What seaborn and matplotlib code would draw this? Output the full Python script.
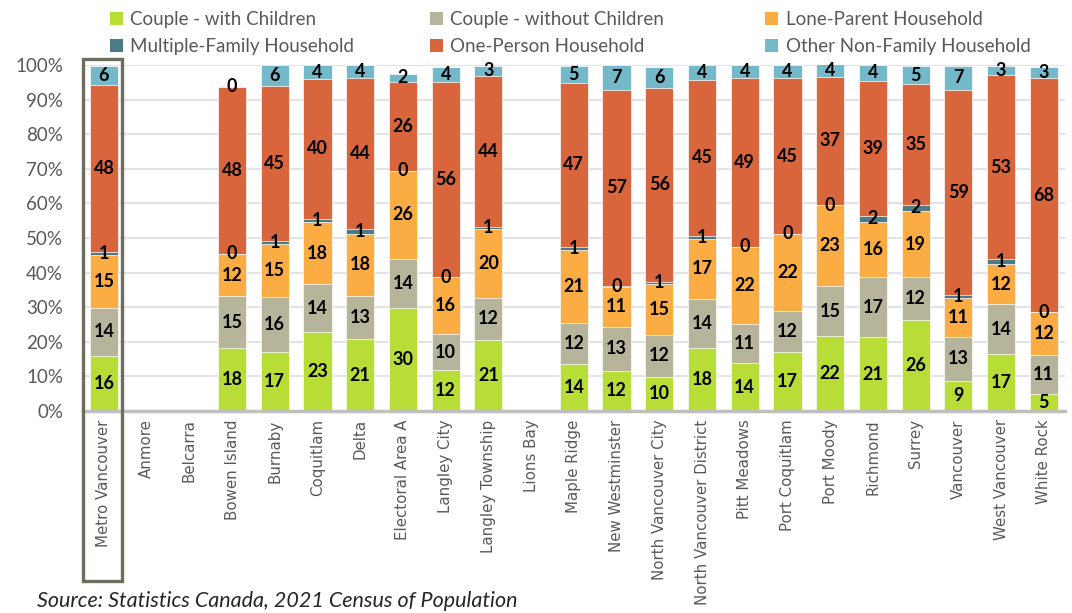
import numpy as np
import pandas as pd
import matplotlib.pyplot as plt
from matplotlib.patches import Patch, Rectangle
import seaborn as sns

# 数据 - household type share (%) by municipality, 2021
cities = ['Metro Vancouver', 'Anmore', 'Belcarra', 'Bowen Island', 'Burnaby', 'Coquitlam',
          'Delta', 'Electoral Area A', 'Langley City', 'Langley Township', 'Lions Bay',
          'Maple Ridge', 'New Westminster', 'North Vancouver City', 'North Vancouver District',
          'Pitt Meadows', 'Port Coquitlam', 'Port Moody', 'Richmond', 'Surrey', 'Vancouver',
          'West Vancouver', 'White Rock']
nan = np.nan
with_children = [16.0, nan, nan, 18.1, 17.0, 22.9, 20.7, 29.7, 11.8, 20.6, nan, 13.6, 11.6,
                 9.9, 18.1, 13.8, 17.1, 21.6, 21.3, 26.3, 8.8, 16.6, 4.8]
without_children = [13.7, nan, nan, 15.0, 15.9, 13.7, 12.6, 14.1, 10.4, 12.1, nan, 11.7, 12.8,
                    12.2, 14.4, 11.4, 11.8, 14.6, 17.3, 12.3, 12.7, 14.2, 11.4]
lone_parent = [15.4, nan, nan, 12.3, 15.3, 18.1, 17.8, 25.7, 16.4, 19.9, nan, 21.3, 11.4,
               14.6, 17.2, 22.3, 22.3, 23.2, 16.1, 19.3, 11.3, 11.8, 12.3]
multiple_family = [0.8, nan, nan, 0.0, 1.0, 0.9, 1.4, 0.0, 0.0, 0.6, nan, 0.8, 0.4,
                   0.6, 0.9, 0.0, 0.0, 0.2, 1.6, 1.6, 0.7, 1.2, 0.0]
one_person = [48.3, nan, nan, 48.3, 44.7, 40.3, 43.6, 25.6, 56.4, 43.6, nan, 47.4, 56.6,
              56.1, 45.1, 48.8, 44.9, 37.0, 39.2, 34.9, 59.2, 53.3, 67.6]
other_nonfamily = [5.6, nan, nan, 0.0, 6.1, 4.1, 3.9, 2.4, 4.3, 3.0, nan, 4.8, 7.1,
                   5.9, 4.3, 3.7, 3.8, 3.7, 4.4, 5.3, 7.1, 2.6, 3.4]

series = ['Couple - with Children', 'Couple - without Children', 'Lone-Parent Household',
          'Multiple-Family Household', 'One-Person Household', 'Other Non-Family Household']
colors = ['#B8DD36', '#B6B59B', '#FBAC42', '#4B7B86', '#D8653C', '#74B9CA']

df = pd.DataFrame({'city': cities,
                   series[0]: with_children, series[1]: without_children,
                   series[2]: lone_parent, series[3]: multiple_family,
                   series[4]: one_person, series[5]: other_nonfamily})

vals = df[series].fillna(0)
cum = vals.cumsum(axis=1)

sns.set_theme(style='white')
plt.rcParams['font.family'] = ['Lato', 'DejaVu Sans']

fig = plt.figure(figsize=(10.72, 6.13), dpi=100)
ax = fig.add_axes([0.077, 0.3295, 0.9166, 0.5645])

# 堆叠柱: 从最高累计值开始往下画
for s, c in zip(series[::-1], colors[::-1]):
    plot_df = pd.DataFrame({'city': cities, 'top': cum[s].values})
    sns.barplot(data=plot_df, x='city', y='top', order=cities, color=c, saturation=1,
                width=0.66, errorbar=None, edgecolor='white', linewidth=0.5, ax=ax, zorder=2)

# 数值标签
for i, city in enumerate(cities):
    if df[series].iloc[i].isna().all():
        continue
    for s in series:
        v = vals[s].iloc[i]
        mid = cum[s].iloc[i] - v / 2
        ax.text(i, mid, f'{int(round(v))}', ha='center', va='center', fontsize=13,
                fontweight='bold', color='black', zorder=5)

ax.set_xlim(-0.5, len(cities) - 0.5)
ax.set_ylim(0, 100)
ax.set_yticks(range(0, 101, 10))
ax.set_yticklabels([f'{t}%' for t in range(0, 101, 10)], fontsize=13.5, color='#595959')
ax.set_xticks(range(len(cities)))
ax.set_xticklabels(cities, rotation=90, fontsize=10.8, color='#595959')
for lbl in ax.get_xticklabels():
    lbl.set_fontfamily('DejaVu Sans')
ax.tick_params(axis='x', length=0, pad=6)
ax.tick_params(axis='y', length=0, pad=14)
ax.set_xlabel('')
ax.set_ylabel('')
ax.yaxis.grid(True, color='#E3E3E3', linewidth=1.5, zorder=0)
ax.set_axisbelow(True)
for sp in ['top', 'right', 'left']:
    ax.spines[sp].set_visible(False)
ax.spines['bottom'].set_color('#BFBFBF')
ax.spines['bottom'].set_linewidth(2.5)

# Metro Vancouver 高亮框
ax.add_patch(Rectangle((-0.48, -49.0), 0.91, 150.6, fill=False, edgecolor='#6D6C5E',
                       linewidth=2.4, clip_on=False, zorder=6))

# 图例: 三列分别放置
handles = [Patch(facecolor=c, edgecolor='none', label=s) for s, c in zip(series, colors)]
for col, x0 in enumerate([93, 413, 748]):
    pair = [col, col + 3]
    leg = fig.legend([handles[k] for k in pair], [series[k] for k in pair], ncol=1,
                     loc='upper left', bbox_to_anchor=(x0 / 1072, 1.009), frameon=False,
                     fontsize=13.5, labelcolor='#595959', handlelength=0.7, handleheight=0.7,
                     handletextpad=0.4, labelspacing=0.5)

fig.text(37 / 1072, 1 - 591 / 613, 'Source: Statistics Canada, 2021 Census of Population',
         fontsize=15.5, style='italic', color='#262626', va='top', ha='left')

plt.savefig('out.png', dpi=100)
